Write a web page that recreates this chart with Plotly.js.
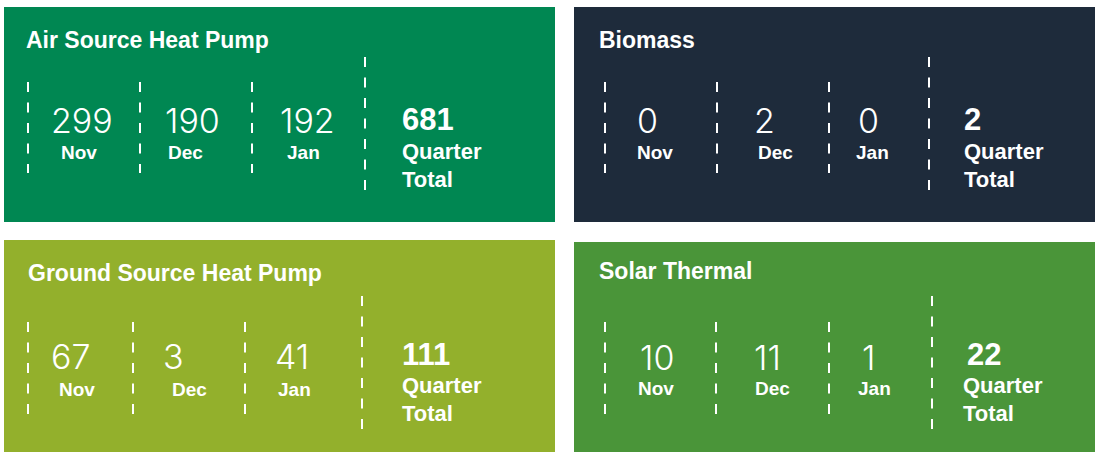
<!DOCTYPE html>
<html>
<head>
<meta charset="utf-8">
<script src="https://cdn.plot.ly/plotly-3.0.1.min.js"></script>
<style>
  html, body { margin: 0; padding: 0; background: #ffffff; }
  #chart { width: 1097px; height: 452px; }
</style>
</head>
<body>
<div id="chart"></div>
<script>
// ---------- DATA ----------
const categories = ['Air Source Heat Pump', 'Biomass', 'Ground Source Heat Pump', 'Solar Thermal'];
const months = ['Nov', 'Dec', 'Jan'];
const novValues = [299, 0, 67, 10];
const decValues = [190, 2, 3, 11];
const janValues = [192, 0, 41, 1];
const quarterTotals = [681, 2, 111, 22];
const totalLabels = ['Quarter', 'Total'];

// ---------- STYLE / LAYOUT (pixel coordinates on a 1097x452 canvas) ----------
const panelColors = ['#008752', '#1e2b3b', '#93b02c', '#4a9539'];
const panels = [
  { x0: 4, x1: 555, y0: 7, y1: 222, titleX: 27, titleY: 40,
    div: [28, 140, 252, 365], shortY: [82, 173], longY: [57, 193],
    numX: [82, 192, 307], numY: 120, labX: [79, 185, 303], labY: 152,
    totX: 403, totY: 119, qX: 403, qY: 152, tY: 180 },
  { x0: 574, x1: 1095, y0: 7, y1: 222, titleX: 600, titleY: 40,
    div: [605, 717, 829, 929], shortY: [82, 173], longY: [57, 193],
    numX: [647, 764, 868], numY: 120, labX: [655, 775, 872], labY: 152,
    totX: 965, totY: 119, qX: 965, qY: 152, tY: 180 },
  { x0: 4, x1: 555, y0: 240, y1: 452, titleX: 29, titleY: 273,
    div: [28, 133, 245, 362], shortY: [322, 414], longY: [296, 433],
    numX: [70, 173, 292], numY: 356, labX: [77, 189, 294], labY: 389,
    totX: 403, totY: 354, qX: 403, qY: 386, tY: 414 },
  { x0: 574, x1: 1095, y0: 242, y1: 452, titleX: 600, titleY: 271,
    div: [605, 716, 829, 932], shortY: [322, 414], longY: [296, 433],
    numX: [657, 767, 868], numY: 357, labX: [656, 772, 874], labY: 388,
    totX: 968, totY: 354, qX: 964, qY: 386, tY: 414 }
];

const boldFont = "'Liberation Sans', Arial, sans-serif";
const lightFont = "Inter, Roboto, 'Liberation Sans', sans-serif";
const LEFT_PAD = 3; // annotation box padding offset for left-anchored text

const shapes = [];
const annotations = [];

function ann(x, y, text, size, weight, family, xanchor) {
  annotations.push({
    x: xanchor === 'left' ? x - LEFT_PAD : x, y: y, xref: 'x', yref: 'y',
    text: String(text), showarrow: false,
    xanchor: xanchor, yanchor: 'middle',
    font: { family: family, size: size, color: '#ffffff', weight: weight }
  });
}

panels.forEach((p, i) => {
  shapes.push({ type: 'rect', xref: 'x', yref: 'y', x0: p.x0, x1: p.x1, y0: p.y0, y1: p.y1,
    fillcolor: panelColors[i], line: { width: 0 }, layer: 'below' });
  p.div.forEach((dx, k) => {
    const ys = k === 3 ? p.longY : p.shortY;
    shapes.push({ type: 'line', xref: 'x', yref: 'y', x0: dx, x1: dx, y0: ys[0], y1: ys[1],
      line: { color: '#ffffff', width: 2, dash: '10px,10.5px' } });
  });
  ann(p.titleX, p.titleY, categories[i], 23, 700, boldFont, 'left');
  const vals = [novValues[i], decValues[i], janValues[i]];
  vals.forEach((v, k) => {
    ann(p.numX[k], p.numY, v, 34, 300, lightFont, 'center');
    ann(p.labX[k], p.labY, months[k], 19, 700, boldFont, 'center');
  });
  ann(p.totX, p.totY, quarterTotals[i], 31, 700, boldFont, 'left');
  ann(p.qX, p.qY - 1, totalLabels[0], 22, 700, boldFont, 'left');
  ann(p.qX, p.tY - 1, totalLabels[1], 22, 700, boldFont, 'left');
});

const layout = {
  width: 1097, height: 452,
  margin: { l: 0, r: 0, t: 0, b: 0, pad: 0 },
  paper_bgcolor: '#ffffff', plot_bgcolor: '#ffffff',
  xaxis: { range: [0, 1097], visible: false, fixedrange: true },
  yaxis: { range: [452, 0], visible: false, fixedrange: true },
  showlegend: false,
  shapes: shapes,
  annotations: annotations
};

Plotly.newPlot('chart', [], layout, { staticPlot: true, displayModeBar: false });
</script>
</body>
</html>
